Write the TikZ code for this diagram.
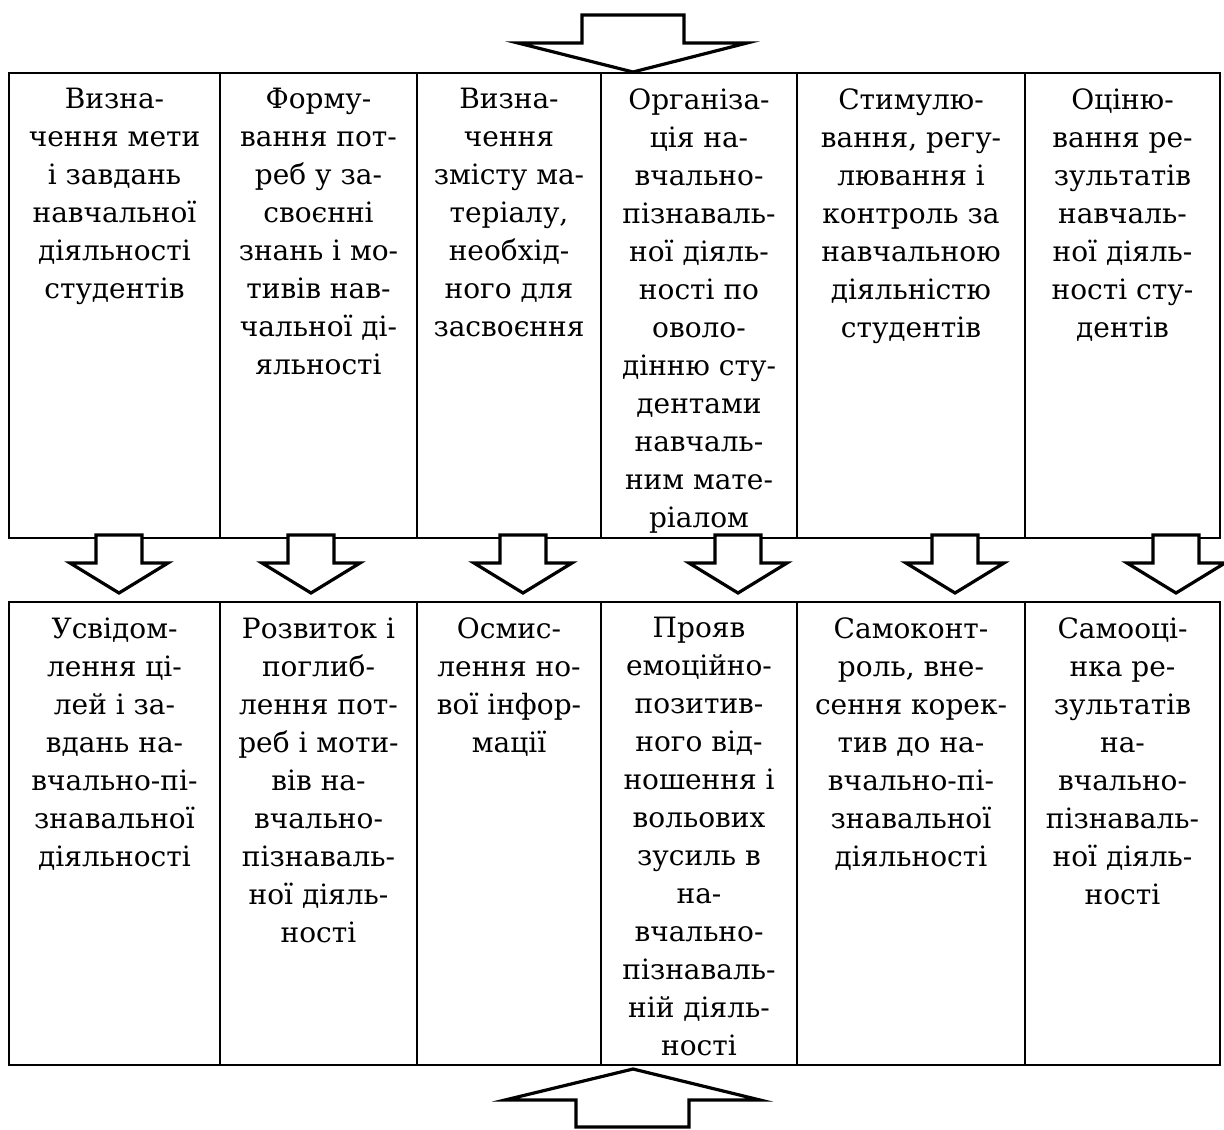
\documentclass[tikz,border=0pt]{standalone}
\usepackage{fontspec}
\setmainfont{DejaVu Serif}
\usetikzlibrary{positioning}

\tikzset{
  cell/.style={draw, line width=1pt, anchor=north west, inner sep=0pt},
  celltext/.style={inner sep=0pt, align=center,
    font=\fontsize{14}{19}\selectfont, execute at begin node=\strut},
  blockarrow/.style={draw, line width=1.6pt, fill=white, line join=miter},
}

\begin{document}
\begin{tikzpicture}[x=0.5pt, y=-0.5pt]
  \useasboundingbox (0,0) rectangle (1224,1129);

  % two rows of six cells
  \foreach \n/\xl/\xr in {1/8/219, 2/219/416, 3/416/600, 4/600/796, 5/796/1024, 6/1024/1219} {
    \node[cell, minimum width={(\xr-\xl)*0.5pt}, minimum height=232.5pt] (t\n) at (\xl,72) {};
    \node[cell, minimum width={(\xr-\xl)*0.5pt}, minimum height=231.5pt] (b\n) at (\xl,601) {};
  }

  % upper row
  \node[celltext, below=8pt of t1.north] (tt1) {Визна-\\чення мети\\і завдань\\навчальної\\діяльності\\студентів};
  \node[celltext, below=8pt of t2.north] (tt2) {Форму-\\вання пот-\\реб у за-\\своєнні\\знань і мо-\\тивів нав-\\чальної ді-\\яльності};
  \node[celltext, below=8pt of t3.north] (tt3) {Визна-\\чення\\змісту ма-\\теріалу,\\необхід-\\ного для\\засвоєння};
  \node[celltext, below=8pt of t4.north] (tt4) {Організа-\\ція на-\\вчально-\\пізнаваль-\\ної діяль-\\ності по\\оволо-\\дінню сту-\\дентами\\навчаль-\\ним мате-\\ріалом};
  \node[celltext, below=8pt of t5.north] (tt5) {Стимулю-\\вання, регу-\\лювання і\\контроль за\\навчальною\\діяльністю\\студентів};
  \node[celltext, below=8pt of t6.north] (tt6) {Оціню-\\вання ре-\\зультатів\\навчаль-\\ної діяль-\\ності сту-\\дентів};

  % lower row
  \node[celltext, below=8pt of b1.north] (bt1) {Усвідом-\\лення ці-\\лей і за-\\вдань на-\\вчально-пі-\\знавальної\\діяльності};
  \node[celltext, below=8pt of b2.north] (bt2) {Розвиток і\\поглиб-\\лення пот-\\реб і моти-\\вів на-\\вчально-\\пізнаваль-\\ної діяль-\\ності};
  \node[celltext, below=8pt of b3.north] (bt3) {Осмис-\\лення но-\\вої інфор-\\мації};
  \node[celltext, below=8pt of b4.north] (bt4) {Прояв\\емоційно-\\позитив-\\ного від-\\ношення і\\вольових\\зусиль в\\на-\\вчально-\\пізнаваль-\\ній діяль-\\ності};
  \node[celltext, below=8pt of b5.north] (bt5) {Самоконт-\\роль, вне-\\сення корек-\\тив до на-\\вчально-пі-\\знавальної\\діяльності};
  \node[celltext, below=8pt of b6.north] (bt6) {Самооці-\\нка ре-\\зультатів\\на-\\вчально-\\пізнаваль-\\ної діяль-\\ності};

  % block arrows
  \draw[blockarrow] (582,15) -- (684,15) -- (684,43) -- (747,43) -- (633,72)
    -- (518,43) -- (582,43) -- cycle;
  \foreach \cx in {119, 311, 523, 738, 955, 1176}
    \draw[blockarrow] (\cx-23,535) -- (\cx+23,535) -- (\cx+23,563) -- (\cx+49,563)
      -- (\cx,593) -- (\cx-49,563) -- (\cx-23,563) -- cycle;
  \draw[blockarrow] (576,1127) -- (576,1100) -- (505,1100) -- (633,1069)
    -- (760,1100) -- (689,1100) -- (689,1127) -- cycle;
\end{tikzpicture}
\end{document}
